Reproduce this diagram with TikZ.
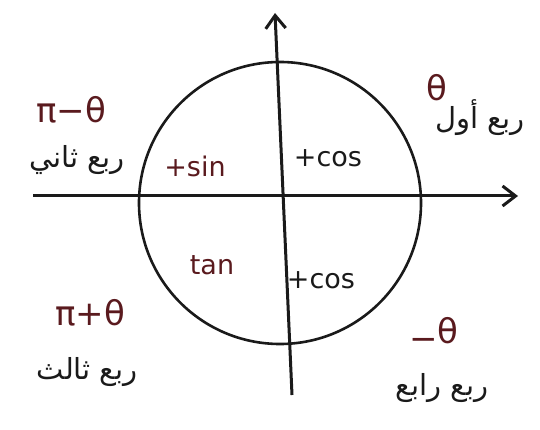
\documentclass[tikz,border=0pt]{standalone}
\usepackage{fontspec}
\setmainfont{DejaVu Sans}
\newfontfamily\arabicfont[Script=Arabic]{DejaVu Sans}
\TeXXeTstate=1
\usetikzlibrary{arrows.meta}
\definecolor{ink}{HTML}{1A1A1A}
\definecolor{redink}{HTML}{5A1A1E}
\tikzset{
  axisline/.style={draw=ink, line width=3pt, -{Straight Barb[length=13pt,width=20pt,line width=3pt]}},
  angle/.style={text=redink, font=\fontsize{34}{36}\selectfont, inner sep=0pt},
  quad/.style={text=ink, font=\arabicfont\fontsize{29}{32}\selectfont, inner sep=0pt},
  fn/.style={font=\fontsize{27}{30}\selectfont, inner sep=0pt},
}
\begin{document}
\begin{tikzpicture}[x=1pt,y=-1pt]
\useasboundingbox[fill=white] (0,0) rectangle (540,430);
\node[draw=ink, line width=2.6pt, circle, minimum size=282pt, inner sep=0pt] (c) at (280,203) {};
\coordinate (xl) at (33,196);
\coordinate (xr) at (518,196);
\coordinate (yb) at (292,395);
\coordinate (yt) at (275,13);
\draw[axisline] (xl) -- (xr);
\draw[axisline] (yb) -- (yt);
\node[angle] (a2) at (71,110) {π−θ};
\node[quad] (q2) at (77,160) {\beginR ربع ثاني\endR};
\node[angle] (a1) at (437,88) {θ};
\node[quad] (q1) at (480,118) {\beginR ربع أول\endR};
\node[angle] (a3) at (90,313) {π+θ};
\node[quad] (q3) at (87,372) {\beginR ربع ثالث\endR};
\node[angle] (a4) at (434,334) {\raisebox{-0.35ex}{−}θ};
\node[quad] (q4) at (442,388) {\beginR ربع رابع\endR};
\node[fn, text=redink] (s) at (195,166) {+sin};
\node[fn, text=ink] (c1) at (328,158) {+cos};
\node[fn, text=redink] (t) at (212,265) {tan};
\node[fn, text=ink] (c4) at (321,280) {+cos};
\end{tikzpicture}
\end{document}
